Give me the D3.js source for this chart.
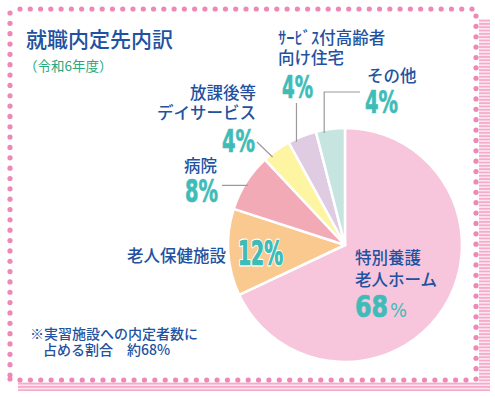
<!DOCTYPE html>
<html>
<head>
<meta charset="utf-8">
<script src="https://cdn.jsdelivr.net/npm/d3@7"></script>
<style>
  html, body { margin: 0; padding: 0; background: #fff; }
  svg { display: block; }
  .jp { font-family: "Noto Sans CJK JP", sans-serif; }
  .pct { font-family: "DejaVu Sans Condensed", "DejaVu Sans", sans-serif; font-weight: bold; }
</style>
</head>
<body>
<div id="chart"></div>
<script>
// données du graphique
const categories = ["特別養護老人ホーム", "老人保健施設", "病院", "放課後等デイサービス", "ｻｰﾋﾞｽ付高齢者向け住宅", "その他"];
const values = [68, 12, 8, 4, 4, 4];
const pctLabels = ["68%", "12%", "8%", "4%", "4%", "4%"];
const sliceColors = ["#f7c6dc", "#f9c98f", "#f2aab6", "#fef5a2", "#dfcce3", "#c6e5e1"];

const titleText = "就職内定先内訳";
const subtitleText = "（令和6年度）";
const noteLines = ["※実習施設への内定者数に", "占める割合　約68%"];

const width = 495, height = 397;
const blue = "#22529f", teal = "#3fbcb7", pinkDot = "#ee88b7";

const svg = d3.select("#chart").append("svg")
  .attr("width", width)
  .attr("height", height);

// motif rayé pour l'ombre du cadre
const defs = svg.append("defs");
const pat = defs.append("pattern")
  .attr("id", "stripes")
  .attr("patternUnits", "userSpaceOnUse")
  .attr("width", 10).attr("height", 3.3);
pat.append("rect").attr("width", 10).attr("height", 3.3).attr("fill", "#fde6ef");
pat.append("rect").attr("width", 10).attr("height", 1.7).attr("fill", "#f5abcb");

svg.append("rect").attr("x", 479).attr("y", 19).attr("width", 11).attr("height", 372).attr("fill", "url(#stripes)");
svg.append("rect").attr("x", 18).attr("y", 382).attr("width", 472).attr("height", 9).attr("fill", "url(#stripes)");
svg.append("rect").attr("x", 11).attr("y", 10).attr("width", 465).attr("height", 370).attr("fill", "#fff");

// cadre en pointillés
function dotsLine(x0, y0, x1, y1, n) {
  return d3.range(n).map(i => [x0 + (x1 - x0) * i / (n - 1), y0 + (y1 - y0) * i / (n - 1)]);
}
const dots = [].concat(
  dotsLine(20, 9, 472, 9, 45),
  dotsLine(10, 13, 10, 375, 36),
  dotsLine(476, 16, 476, 379, 36),
  dotsLine(20, 380, 466, 380, 44),
  [[10, 379]]
);
svg.append("g").selectAll("circle")
  .data(dots)
  .enter().append("circle")
  .attr("cx", d => d[0])
  .attr("cy", d => d[1])
  .attr("r", 2.6)
  .attr("fill", pinkDot);

// titre
svg.append("text").attr("class", "jp")
  .attr("x", 26).attr("y", 47)
  .attr("font-size", 21).attr("font-weight", 500)
  .attr("fill", blue)
  .text(titleText);
svg.append("text").attr("class", "jp")
  .attr("x", 24).attr("y", 71)
  .attr("font-size", 13.5)
  .attr("fill", "#2aa87e")
  .text(subtitleText);

// camembert
const cx = 345, cy = 245, radius = 117;
const pie = d3.pie().sort(null).value(d => d)
  .startAngle(0).endAngle(2 * Math.PI);
const arcs = pie(values);
const arc = d3.arc().innerRadius(0).outerRadius(radius);

const g = svg.append("g").attr("transform", `translate(${cx},${cy})`);
g.selectAll("path")
  .data(arcs)
  .enter().append("path")
  .attr("d", arc)
  .attr("fill", (d, i) => sliceColors[i])
  .attr("stroke", "#fff")
  .attr("stroke-width", 2.5)
  .attr("stroke-linejoin", "round");

// point sur le bord d'une part (f = fraction de l'angle)
function edgePoint(i, f) {
  const a = arcs[i].startAngle + f * (arcs[i].endAngle - arcs[i].startAngle);
  const r = radius - 3;
  return [cx + r * Math.sin(a), cy - r * Math.cos(a)];
}

// traits de rappel
const leaders = [
  { i: 3, f: 0.26, pts: p => [[257, 142], p] },
  { i: 2, f: 0.47, pts: p => [[222, p[1]], p] },
  { i: 4, f: 0.25, pts: p => [[p[0], 103], p] },
  { i: 5, f: 0.27, pts: p => [[360, 92], [p[0], 92], p] }
];
svg.append("g").selectAll("path")
  .data(leaders)
  .enter().append("path")
  .attr("d", d => d3.line()(d.pts(edgePoint(d.i, d.f))))
  .attr("fill", "none")
  .attr("stroke", "#9a9a9a")
  .attr("stroke-width", 1.2);

// étiquettes
const labelLines = [
  { lines: ["特別養護", "老人ホーム"], x: 355, y: [264, 286], anchor: "start" },
  { lines: ["老人保健施設"], x: 226, y: [262], anchor: "end" },
  { lines: ["病院"], x: 217, y: [172], anchor: "end" },
  { lines: ["放課後等", "デイサービス"], x: 256, y: [99, 119], anchor: "end" },
  { lines: ["ｻｰﾋﾞｽ付高齢者", "向け住宅"], x: 278, y: [44, 64], anchor: "start" },
  { lines: ["その他"], x: 367, y: [82], anchor: "start" }
];
labelLines.forEach(l => {
  l.lines.forEach((t, k) => {
    svg.append("text").attr("class", "jp")
      .attr("x", l.x).attr("y", l.y[k])
      .attr("text-anchor", l.anchor)
      .attr("font-size", 16.5).attr("font-weight", 500)
      .attr("fill", blue)
      .text(t);
  });
});

// pourcentages
const pctPos = [
  null,
  { x: 238, y: 265, w: 45, size: 33, outline: true },
  { x: 185, y: 202, w: 33, size: 32 },
  { x: 222, y: 152, w: 33, size: 32 },
  { x: 282, y: 98, w: 31, size: 32 },
  { x: 365, y: 113, w: 33, size: 32 }
];
pctPos.forEach((p, i) => {
  if (!p) return;
  const t = svg.append("text").attr("class", "pct")
    .attr("x", p.x).attr("y", p.y)
    .attr("font-size", p.size)
    .attr("fill", teal)
    .attr("textLength", p.w)
    .attr("lengthAdjust", "spacingAndGlyphs")
    .text(pctLabels[i]);
  if (p.outline) {
    t.attr("stroke", "#fff").attr("stroke-width", 3)
      .attr("paint-order", "stroke").attr("stroke-linejoin", "round");
    // trait intérieur pour épaissir
    svg.append("text").attr("class", "pct")
      .attr("x", p.x).attr("y", p.y)
      .attr("font-size", p.size)
      .attr("fill", teal).attr("stroke", teal).attr("stroke-width", 0.7)
      .attr("textLength", p.w)
      .attr("lengthAdjust", "spacingAndGlyphs")
      .text(pctLabels[i]);
  } else {
    t.attr("stroke", teal).attr("stroke-width", 0.7);
  }
});
// 68% : le signe % est plus petit
svg.append("text").attr("class", "pct")
  .attr("x", 355).attr("y", 317)
  .attr("font-size", 30).attr("fill", teal)
  .attr("stroke", teal).attr("stroke-width", 0.7)
  .attr("textLength", 33).attr("lengthAdjust", "spacingAndGlyphs")
  .text(pctLabels[0].replace("%", ""));
svg.append("text")
  .attr("x", 390).attr("y", 317)
  .attr("font-family", "DejaVu Sans Condensed, DejaVu Sans, sans-serif")
  .attr("font-size", 19).attr("fill", teal)
  .attr("textLength", 17).attr("lengthAdjust", "spacingAndGlyphs")
  .text("%");

// note
svg.append("text").attr("class", "jp")
  .attr("x", 30).attr("y", 339)
  .attr("font-size", 14).attr("font-weight", 500)
  .attr("fill", blue)
  .text(noteLines[0]);
svg.append("text").attr("class", "jp")
  .attr("x", 43).attr("y", 355)
  .attr("font-size", 14).attr("font-weight", 500)
  .attr("fill", blue)
  .text(noteLines[1]);
</script>
</body>
</html>
